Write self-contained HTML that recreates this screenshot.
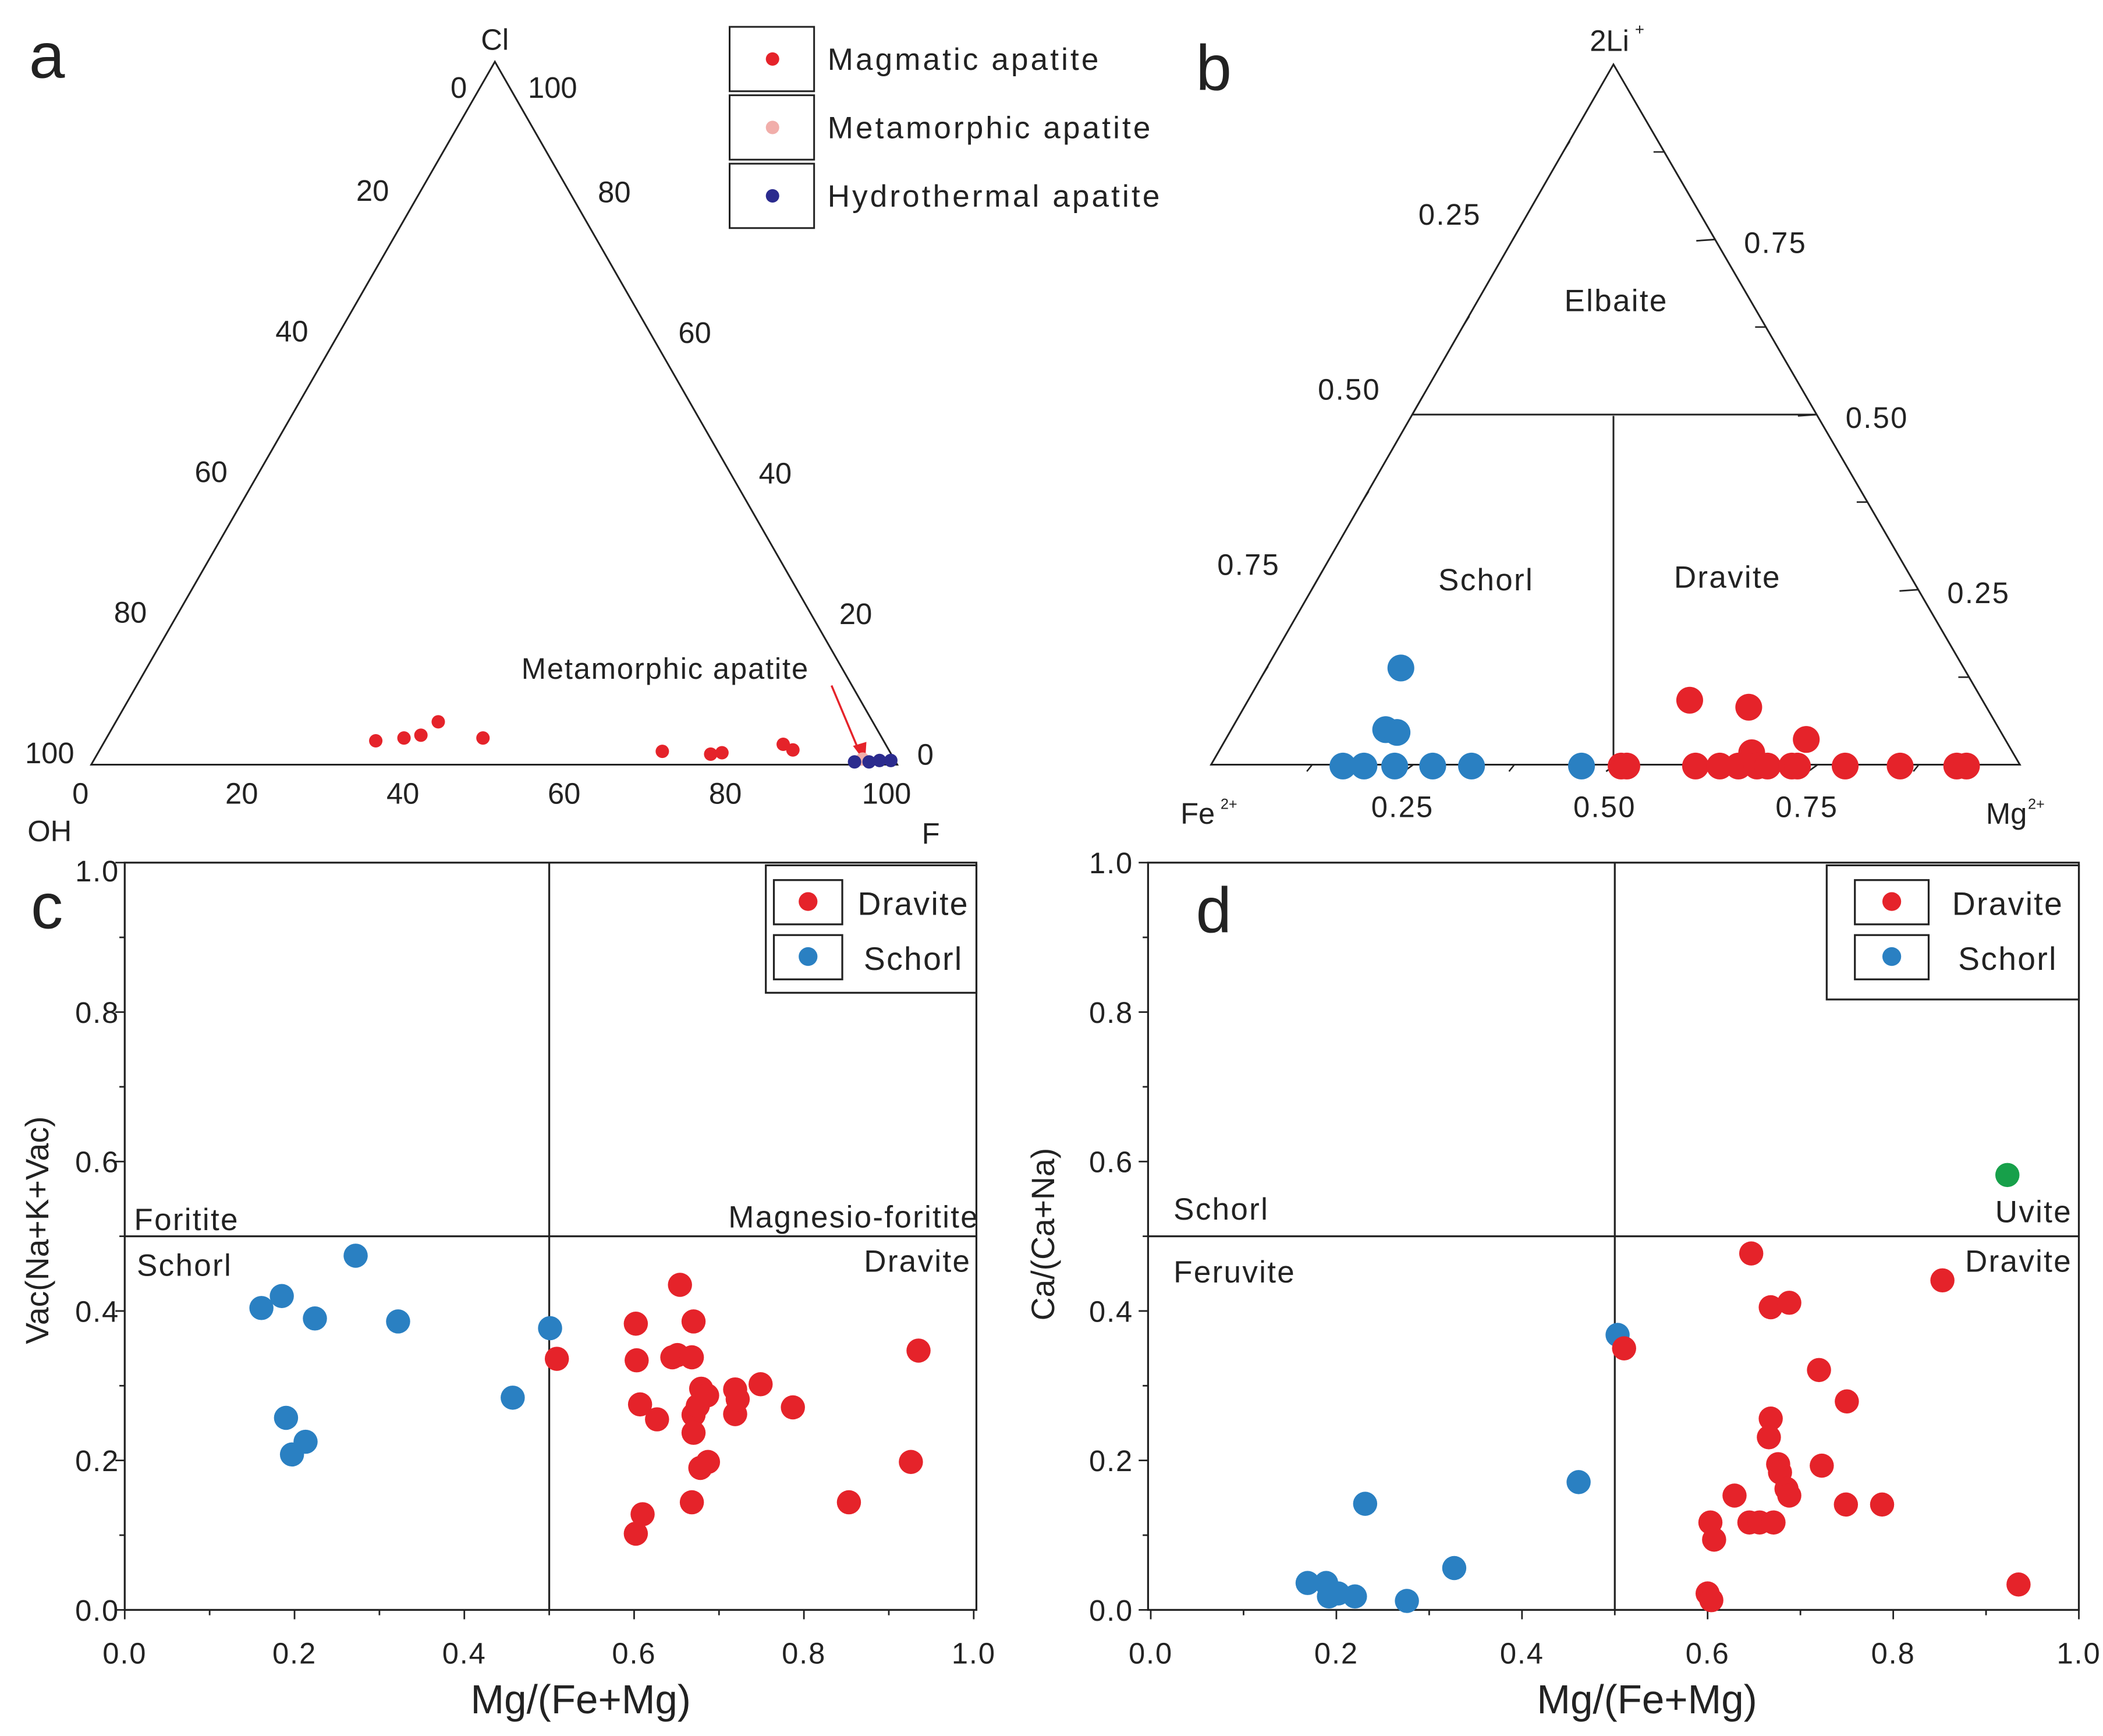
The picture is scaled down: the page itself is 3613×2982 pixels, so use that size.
<!DOCTYPE html>
<html><head><meta charset="utf-8"><style>
html,body{margin:0;padding:0;background:#fff;}
svg{display:block;font-family:"Liberation Sans",Arial,sans-serif;}
</style></head><body>
<svg id="fig" width="3613" height="2982" viewBox="0 0 1568 1294" preserveAspectRatio="none" xmlns="http://www.w3.org/2000/svg">
<rect x="0" y="0" width="1568" height="1294" fill="#fff"/>
</svg>
<script>
// ---------- Panel a data (percent F, percent Cl) ----------
const aMagF = [33.6,36.9,38.8,40.0,46.7,69.9,76.1,77.4,84.4,86.0];
const aMagCl = [3.4,3.8,4.2,6.1,3.8,1.9,1.5,1.7,2.9,2.1];
const aMetF = [95.3];
const aMetCl = [0.8];
const aHydF = [94.5,96.3,97.5,98.9];
const aHydCl = [0.4,0.4,0.6,0.6];
const aTicks = [0,20,40,60,80,100];
// ---------- Panel b data (Mg fraction, 2Li fraction) ----------
const bSchorlMg = [0.165,0.190,0.206,0.163,0.189,0.227,0.274,0.322,0.458];
const bSchorlLi = [0.140,0.052,0.048,0,0,0,0,0,0];
const bDraviteMg = [0.545,0.623,0.717,0.659,0.507,0.514,0.599,0.629,0.652,0.675,0.688,0.718,0.725,0.784,0.852,0.922,0.934];
const bDraviteLi = [0.094,0.084,0.038,0.019,0,0,0,0,0,0,0,0,0,0,0,0,0];
const bTicks = ["0.25","0.50","0.75"];
// ---------- Panel c data ----------
const cSchorlX = [0.161,0.185,0.224,0.272,0.322,0.190,0.213,0.197,0.457,0.501];
const cSchorlY = [0.404,0.420,0.390,0.474,0.386,0.257,0.225,0.208,0.284,0.377];
const cDraviteX = [0.509,0.602,0.603,0.607,0.627,0.602,0.610,0.654,0.645,0.651,0.670,0.668,0.670,0.670,0.675,0.678,0.679,0.686,0.687,0.719,0.719,0.722,0.749,0.787,0.668,0.853,0.926,0.935];
const cDraviteY = [0.336,0.383,0.334,0.275,0.255,0.102,0.128,0.435,0.338,0.341,0.386,0.338,0.261,0.237,0.273,0.190,0.296,0.287,0.198,0.295,0.262,0.282,0.302,0.271,0.144,0.144,0.198,0.347];
// ---------- Panel d data ----------
const dSchorlX = [0.169,0.189,0.192,0.202,0.220,0.231,0.276,0.327,0.461,0.503];
const dSchorlY = [0.036,0.036,0.018,0.022,0.018,0.142,0.012,0.056,0.171,0.368];
const dDraviteX = [0.510,0.647,0.668,0.688,0.629,0.645,0.656,0.668,0.666,0.671,0.676,0.678,0.685,0.688,0.720,0.750,0.723,0.749,0.603,0.607,0.600,0.604,0.788,0.853,0.935];
const dDraviteY = [0.350,0.477,0.405,0.411,0.153,0.117,0.117,0.256,0.231,0.117,0.195,0.184,0.162,0.153,0.321,0.279,0.193,0.141,0.117,0.094,0.022,0.013,0.141,0.441,0.034];
const dUviteX = [0.923];
const dUviteY = [0.582];
const xyTicks = ["0.0","0.2","0.4","0.6","0.8","1.0"];

const RED="#e5232a", BLUE="#2a80c2", NAVY="#2b2b8e", PINK="#f1aeaa", GREEN="#17a04a";
const svg=document.getElementById('fig');
const NS="http://www.w3.org/2000/svg";
function el(tag,attrs,parent){const e=document.createElementNS(NS,tag);for(const k in attrs)e.setAttribute(k,attrs[k]);(parent||svg).appendChild(e);return e;}
function grp(name){const g=el('g',{});


return g;}
function txt(g,x,y,s,size,anchor,name,extra){const t=el('text',Object.assign({x:x,y:y,'font-size':size,'text-anchor':anchor||'middle',fill:'#222'},extra||{}),g);t.textContent=s;


return t;}
function line(g,x1,y1,x2,y2,w,name){const l=el('line',{x1:x1,y1:y1,x2:x2,y2:y2,stroke:'#222','stroke-width':w||1.3},g);


return l;}
function dot(g,x,y,r,c,name){const d=el('circle',{cx:x,cy:y,r:r,fill:c},g);


return d;}

// ================= Panel a =================
(function(){
const g=grp('panel-a-ternary');
const T=[369,46],L=[68,570],R=[669,570];
function pa(F,Cl){const fx=F/100,cx=Cl/100;return [L[0]+(R[0]-L[0])*fx+(T[0]-L[0])*cx, L[1]+(T[1]-L[1])*cx];}
el('polygon',{points:`${T} ${L} ${R}`,fill:'none',stroke:'#222','stroke-width':1.3},g);
txt(g,35,58,'a',48,'middle','panel-label-a');
txt(g,369,37,'Cl',22,'middle','vertex-cl');
txt(g,37,627,'OH',22,'middle','vertex-oh');
txt(g,694,629,'F',22,'middle','vertex-f');
aTicks.forEach((t,i)=>{const f=t/100;
 const px=T[0]+(L[0]-T[0])*f, py=T[1]+(L[1]-T[1])*f;
 if(t===0) txt(g,342,73,'0',22,'middle','left-tick-label');
 else txt(g,px-31,py-1,String(t),22,'middle','left-tick-label');
 const qx=T[0]+(R[0]-T[0])*f, qy=T[1]+(R[1]-T[1])*f;
 if(t===0) txt(g,412,73,'100',22,'middle','right-tick-label');
 else if(t===100) txt(g,690,570,'0',22,'middle','right-tick-label');
 else txt(g,qx+29,qy,String(100-t),22,'middle','right-tick-label');
 const bx=L[0]+(R[0]-L[0])*f-8;
 txt(g,t===0?60:bx,599,String(t),22,'middle','bottom-tick-label');});
txt(g,496,506,'Metamorphic apatite',22,'middle','annotation-metamorphic',{'letter-spacing':'0.8'});
line(g,620,511,641,561,1.5,'annotation-arrow').setAttribute('stroke',RED);
el('polygon',{points:'645,568 636,556 646,553',fill:RED},g);
aMagF.forEach((f,i)=>{const p=pa(f,aMagCl[i]);dot(g,p[0],p[1],5,RED,'magmatic-point');});
aMetF.forEach((f,i)=>{const p=pa(f,aMetCl[i]);dot(g,p[0],p[1],5,PINK,'metamorphic-point');});
aHydF.forEach((f,i)=>{const p=pa(f,aHydCl[i]);dot(g,p[0],p[1],5,NAVY,'hydrothermal-point');});
const lg=grp('legend-a');
[['Magmatic apatite',RED,20],['Metamorphic apatite',PINK,71],['Hydrothermal apatite',NAVY,122]].forEach(([s,c,y])=>{
 const r=el('rect',{x:544,y:y,width:63,height:48,fill:'none',stroke:'#222','stroke-width':1.3},lg);
 
 dot(lg,576,y+24,5,c,'legend-marker');
 txt(lg,617,y+32,s,23,'start','legend-entry',{'letter-spacing':'1.8'});});
})();

// ================= Panel b =================
(function(){
const g=grp('panel-b-ternary');
const T=[1203,48],L=[903,570],R=[1506,570];
function pb(mg,li){return [L[0]+(R[0]-L[0])*mg+(T[0]-L[0])*li, L[1]+(T[1]-L[1])*li];}
el('polygon',{points:`${T} ${L} ${R}`,fill:'none',stroke:'#222','stroke-width':1.3},g);
const h1=pb(0,0.5),h2=pb(0.5,0.5);
line(g,h1[0],h1[1],h2[0],h2[1],1.3,'field-boundary');
line(g,1203,310,1203,570,1.3,'field-boundary');
txt(g,905,67,'b',48,'middle','panel-label-b');
txt(g,1200,38,'2Li',22,'middle','vertex-li');
txt(g,1219,26,'+',12,'start','vertex-li-sup');
txt(g,893,614,'Fe',22,'middle','vertex-fe');
txt(g,910,603,'2+',11,'start','vertex-fe-sup');
txt(g,1496,614,'Mg',22,'middle','vertex-mg');
txt(g,1512,603,'2+',11,'start','vertex-mg-sup');
txt(g,1205,232,'Elbaite',23,'middle','field-elbaite',{'letter-spacing':'1'});
txt(g,1108,440,'Schorl',23,'middle','field-schorl',{'letter-spacing':'1'});
txt(g,1288,438,'Dravite',23,'middle','field-dravite',{'letter-spacing':'1'});
bTicks.forEach((s,i)=>{const f=(i+1)*0.25;
 const lp=[T[0]+(L[0]-T[0])*f, T[1]+(L[1]-T[1])*f];
 txt(g,lp[0]-47,lp[1]-11,s,22,'middle','left-tick-label',{'letter-spacing':'1'});
 line(g,lp[0],lp[1],lp[0]+8,lp[1]-14,1.2,'tick');
 const rp=[T[0]+(R[0]-T[0])*f, T[1]+(R[1]-T[1])*f];
 txt(g,rp[0]+45,rp[1]+10,bTicks[2-i],22,'middle','right-tick-label',{'letter-spacing':'1'});
 line(g,rp[0],rp[1],rp[0]-14,rp[1]+1,1.2,'tick');
 const bp=[L[0]+(R[0]-L[0])*f,570];
 txt(g,bp[0]-8,609,s,22,'middle','bottom-tick-label',{'letter-spacing':'1'});
 line(g,bp[0],570,bp[0]-7,575,1.2,'tick');});
[0.125,0.375,0.625,0.875].forEach(f=>{
 const lp=[T[0]+(L[0]-T[0])*f, T[1]+(L[1]-T[1])*f]; line(g,lp[0],lp[1],lp[0]+5,lp[1]-8,1.1,'minor-tick');
 const rp=[T[0]+(R[0]-T[0])*f, T[1]+(R[1]-T[1])*f]; line(g,rp[0],rp[1],rp[0]-8,rp[1],1.1,'minor-tick');
 const bp=L[0]+(R[0]-L[0])*f; line(g,bp,570,bp-4,575,1.1,'minor-tick');});
bSchorlMg.forEach((m,i)=>{const p=pb(m,bSchorlLi[i]);dot(g,p[0],p[1]+1,10,BLUE,'schorl-point');});
bDraviteMg.forEach((m,i)=>{const p=pb(m,bDraviteLi[i]);dot(g,p[0],p[1]+1,10,RED,'dravite-point');});
})();

// ================= XY panels =================
function xyPanel(cfg){
const g=grp(cfg.name);
const X=v=>cfg.x0+(cfg.x1-cfg.x0)*v, Y=v=>1200-(1200-cfg.yTop)*v;
const fr=el('rect',{x:cfg.left,y:cfg.yTop,width:cfg.right-cfg.left,height:1200-cfg.yTop,fill:'none',stroke:'#222','stroke-width':1.4},g);

line(g,X(0.5),cfg.yTop,X(0.5),1200,1.4,'divider-vertical');
line(g,cfg.left,Y(0.5),cfg.right,Y(0.5),1.4,'divider-horizontal');
for(let k=0;k<=10;k++){const v=k/10,maj=k%2===0;
 line(g,cfg.left,Y(v),cfg.left-(maj?7:4),Y(v),1.2,'y-tick');
 line(g,X(v),1200,X(v),1200+(maj?7:4),1.2,'x-tick');}
xyTicks.forEach((s,i)=>{const v=i*0.2;
 const yy=(i===5&&cfg.pl==='c')?Y(v)+14:Y(v)+8;
 txt(g,cfg.left-cfg.ylabOff,yy,s,22,'end','y-tick-label',{'letter-spacing':'0.8'});
 txt(g,X(v),1240,s,22,'middle','x-tick-label',{'letter-spacing':'0.8'});});
txt(g,cfg.xTitleX,1277,'Mg/(Fe+Mg)',30,'middle','x-axis-title');
const yt=txt(g,0,0,cfg.yTitle,24,'middle','y-axis-title');
yt.setAttribute('transform',`translate(${cfg.yTitleX},${cfg.yTitleY}) rotate(-90)`);
txt(g,cfg.plX,cfg.plY,cfg.pl,48,'middle','panel-label-'+cfg.pl);
cfg.labels.forEach(([s,x,y,a])=>txt(g,x,y,s,23,a,'field-label',{'letter-spacing':'1'}));
cfg.series.forEach(([xs,ys,c,n])=>xs.forEach((v,i)=>dot(g,X(v),Y(ys[i]),9,c,n)));
const lg=grp('legend-'+cfg.pl);
const L=cfg.legend;
const r=el('rect',{x:L.x,y:L.y,width:L.w,height:L.h,fill:'#fff',stroke:'#222','stroke-width':1.4},lg);

[['Dravite',RED,L.y+11],['Schorl',BLUE,L.y+52]].forEach(([s,c,y])=>{
 const b=el('rect',{x:L.bx,y:y,width:L.bw,height:33,fill:'none',stroke:'#222','stroke-width':1.4},lg);
 
 dot(lg,L.bx+L.bw/2,y+16,7,c,'legend-marker');
 txt(lg,L.tx,y+26,s,24,'middle','legend-entry',{'letter-spacing':'1'});});
}
xyPanel({name:'panel-c-scatter',pl:'c',plX:35,plY:692,x0:93,x1:726,left:93,right:728,yTop:643,ylabOff:4,
 xTitleX:433,yTitle:'Vac(Na+K+Vac)',yTitleX:36,yTitleY:917,
 labels:[['Foritite',100,917,'start'],['Schorl',102,951,'start'],['Magnesio-foritite',730,915,'end'],['Dravite',724,948,'end']],
 series:[[cSchorlX,cSchorlY,BLUE,'schorl-point'],[cDraviteX,cDraviteY,RED,'dravite-point']],
 legend:{x:571,y:645,w:157,h:95,bx:577,bw:51,tx:681}});
xyPanel({name:'panel-d-scatter',pl:'d',plX:905,plY:695,x0:858,x1:1550,left:856,right:1550,yTop:643,ylabOff:11,
 xTitleX:1228,yTitle:'Ca/(Ca+Na)',yTitleX:786,yTitleY:920,
 labels:[['Schorl',875,909,'start'],['Uvite',1545,911,'end'],['Feruvite',875,956,'start'],['Dravite',1545,948,'end']],
 series:[[dSchorlX,dSchorlY,BLUE,'schorl-point'],[dDraviteX,dDraviteY,RED,'dravite-point'],[dUviteX,dUviteY,GREEN,'uvite-point']],
 legend:{x:1362,y:645,w:188,h:100,bx:1383,bw:55,tx:1497}});
</script>
</body></html>
